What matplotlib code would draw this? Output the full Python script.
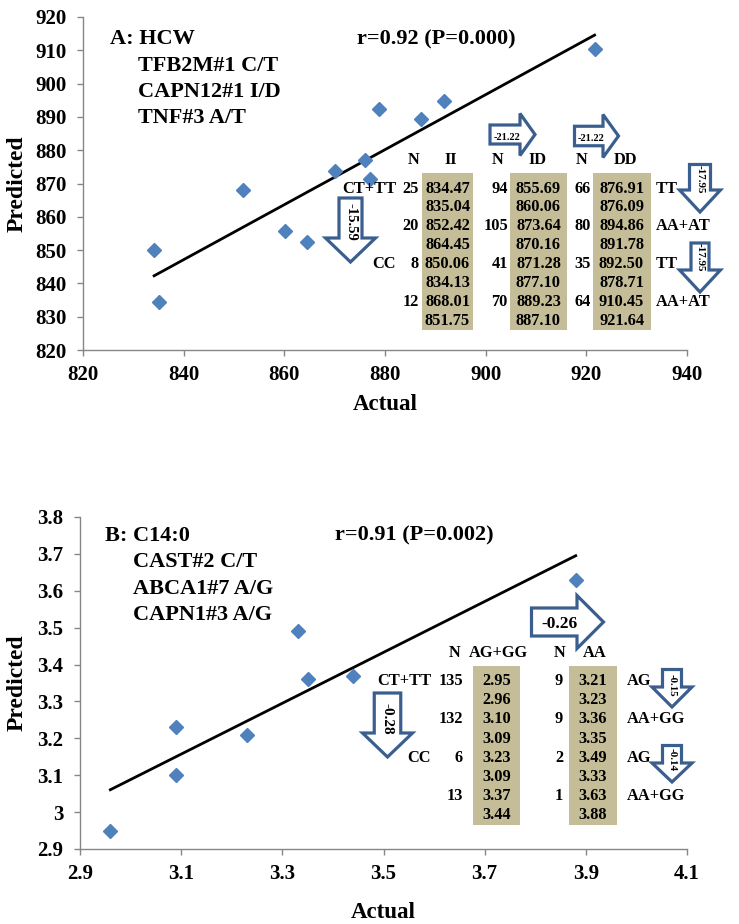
import numpy as np
import matplotlib
matplotlib.use('Agg')
import matplotlib.pyplot as plt
from matplotlib.patches import Polygon, Rectangle

plt.rcParams['font.family'] = 'Liberation Serif'
plt.rcParams['font.weight'] = 'bold'
plt.rcParams['axes.labelweight'] = 'bold'

# ---- panel A: HCW (predicted, actual) per genotype group; column order II, ID, DD
pred_a = [834.47, 852.42, 850.06, 868.01, 855.69, 873.64, 871.28, 889.23,
          876.91, 894.86, 892.50, 910.45]
act_a = [835.04, 864.45, 834.13, 851.75, 860.06, 870.16, 877.10, 887.10,
         876.09, 891.78, 878.71, 921.64]
n_a = [25, 20, 8, 12, 94, 105, 41, 70, 66, 80, 35, 64]
cols_a = ['II', 'ID', 'DD']
left_a = ['CT+TT', '', 'CC', '']
right_a = ['TT', 'AA+AT', 'TT', 'AA+AT']
title_a = ['A: HCW', 'TFB2M#1 C/T', 'CAPN12#1 I/D', 'TNF#3 A/T']
stat_a = 'r=0.92 (P=0.000)'

# ---- panel B: C14:0; column order AG+GG, AA
pred_b = [2.95, 3.10, 3.23, 3.37, 3.21, 3.36, 3.49, 3.63]
act_b = [2.96, 3.09, 3.09, 3.44, 3.23, 3.35, 3.33, 3.88]
n_b = [135, 132, 6, 13, 9, 9, 2, 1]
cols_b = ['AG+GG', 'AA']
left_b = ['CT+TT', '', 'CC', '']
right_b = ['AG', 'AA+GG', 'AG', 'AA+GG']
title_b = ['B: C14:0', 'CAST#2 C/T', 'ABCA1#7 A/G', 'CAPN1#3 A/G']
stat_b = 'r=0.91 (P=0.002)'

BLUE = '#4F81BD'
ARROW = '#3A5F8E'
TAN = '#C4BD97'
GRAY = '#868686'
W, H = 739, 924


def setup_axes(ax, xlim, ylim, xticks, yticks, ylabels, xlabel_y, ypix):
    ax.set_xlim(*xlim)
    ax.set_ylim(*ylim)
    ax.set_xticks(xticks)
    ax.set_yticks(yticks)
    ax.set_yticklabels(ylabels)
    for s in ['top', 'right']:
        ax.spines[s].set_visible(False)
    for s in ['left', 'bottom']:
        ax.spines[s].set_color(GRAY)
        ax.spines[s].set_linewidth(1.0)
    ax.tick_params(direction='out', length=4, width=1.0, color=GRAY, labelsize=15)
    ax.tick_params(axis='y', pad=8)
    ax.tick_params(axis='x', pad=7)
    ax.set_xlabel('Actual', fontsize=16.5, fontweight='bold', va='center')
    ax.set_ylabel('Predicted', fontsize=17, fontweight='bold', va='center')
    ax.xaxis.set_label_coords(0.5, xlabel_y)
    ax.yaxis.set_label_coords(ypix, 0.5)


def scatter_fit(ax, x, y):
    ax.plot(x, y, linestyle='none', marker='D', ms=6.8, color=BLUE, mec=BLUE, zorder=3)
    k, b = np.polyfit(x, y, 1)
    xs = np.array([min(x), max(x)])
    ax.plot(xs, k * xs + b, color='black', lw=2.0, zorder=2)


def txt(ov, x, y, s, size, ha='center', rot=0):
    # y is the visual centre of the glyphs, in pixels from the top
    if rot:
        ov.text(x, y, s, fontsize=size, ha='center', va='center', rotation=rot)
    else:
        ov.text(x, y + 0.34 * size * 100 / 72, s, fontsize=size, ha=ha, va='baseline')


def right_arrow(ov, x0, xh, x1, yc, bh, hh):
    pts = [(x0, yc - bh / 2), (xh, yc - bh / 2), (xh, yc - hh / 2), (x1, yc),
           (xh, yc + hh / 2), (xh, yc + bh / 2), (x0, yc + bh / 2)]
    ov.add_patch(Polygon(pts, closed=True, fc='white', ec=ARROW, lw=2.3, joinstyle='miter'))


def down_arrow(ov, xc, y0, yh, y1, bw, hw):
    pts = [(xc - bw / 2, y0), (xc + bw / 2, y0), (xc + bw / 2, yh), (xc + hw / 2, yh),
           (xc, y1), (xc - hw / 2, yh), (xc - bw / 2, yh)]
    ov.add_patch(Polygon(pts, closed=True, fc='white', ec=ARROW, lw=2.3, joinstyle='miter'))


def table(ov, pred, act, n, cols, left, right, box_x, box_w, box_top, box_bot,
          val_x, n_x, head_x, head_y, row0, dy, left_x, right_x, fmt):
    for c in range(len(cols)):
        ov.add_patch(Rectangle((box_x[c], box_top), box_w[c], box_bot - box_top,
                               fc=TAN, ec='none', zorder=1))
        txt(ov, head_x[c][0], head_y, 'N', 11.8)
        txt(ov, head_x[c][1], head_y, cols[c], 11.8)
        for g in range(4):
            k = c * 4 + g
            y1 = row0 + 2 * g * dy
            txt(ov, n_x[c], y1, str(n[k]), 11.8, ha='right')
            txt(ov, val_x[c], y1, fmt % pred[k], 11.8)
            txt(ov, val_x[c], y1 + dy, fmt % act[k], 11.8)
    for g in range(4):
        y1 = row0 + 2 * g * dy
        if left[g]:
            txt(ov, left_x, y1, left[g], 11.8, ha='right')
        txt(ov, right_x, y1, right[g], 11.8, ha='left')


fig = plt.figure(figsize=(W / 100, H / 100), dpi=100)

ax_a = fig.add_axes([83 / W, 1 - 350 / H, 604 / W, 333 / H])
setup_axes(ax_a, (820, 940), (820, 920), np.arange(820, 941, 20), np.arange(820, 921, 10),
           [str(v) for v in range(820, 921, 10)], -(405 - 350) / 333, (17 - 83) / 604)
scatter_fit(ax_a, act_a, pred_a)

ax_b = fig.add_axes([80 / W, 1 - 849 / H, 607 / W, 332 / H])
yt_b = [2.9, 3.0, 3.1, 3.2, 3.3, 3.4, 3.5, 3.6, 3.7, 3.8]
setup_axes(ax_b, (2.9, 4.1), (2.9, 3.8), [2.9, 3.1, 3.3, 3.5, 3.7, 3.9, 4.1], yt_b,
           ['%g' % v for v in yt_b], -(912 - 849) / 332, (17 - 80) / 607)
ax_b.set_xticklabels(['2.9', '3.1', '3.3', '3.5', '3.7', '3.9', '4.1'])
scatter_fit(ax_b, act_b, pred_b)

# overlay in pixel coordinates for the annotation text, tables and block arrows
ov = fig.add_axes([0, 0, 1, 1], zorder=5)
ov.set_xlim(0, W)
ov.set_ylim(H, 0)
ov.axis('off')

# panel A text
txt(ov, 110, 36.5, title_a[0], 16, ha='left')
for i, s in enumerate(title_a[1:]):
    txt(ov, 138, 63.5 + i * 26, s, 16, ha='left')
txt(ov, 357, 36.5, stat_a, 16, ha='left')

table(ov, pred_a, act_a, n_a, cols_a, left_a, right_a,
      box_x=[422, 510, 593], box_w=[51, 57, 58], box_top=173, box_bot=330,
      val_x=[447.5, 538.5, 621.5], n_x=[419, 508, 591],
      head_x=[(414, 451), (497.5, 537.5), (581.5, 625)], head_y=158.5,
      row0=187, dy=18.9, left_x=396, right_x=656, fmt='%.2f')

right_arrow(ov, 490, 520, 535, 134.5, 19, 42)
txt(ov, 506.5, 136.7, '-21.22', 7.5)
right_arrow(ov, 574.5, 603, 618.5, 136, 19.5, 43)
txt(ov, 591.5, 137.5, '-21.22', 7.5)
down_arrow(ov, 700, 164.5, 190, 212, 21, 41)
txt(ov, 700, 179, '-17.95', 8, rot=270)
down_arrow(ov, 700, 243, 270, 292, 18, 41)
txt(ov, 700, 257, '-17.95', 8, rot=270)
down_arrow(ov, 350.5, 198, 238, 262, 23, 50)
txt(ov, 351.5, 221.5, '-15.59', 10.5, rot=270)

# panel B text
txt(ov, 105, 533, title_b[0], 16, ha='left')
for i, s in enumerate(title_b[1:]):
    txt(ov, 133, 559.5 + i * 26.5, s, 16, ha='left')
txt(ov, 335, 533, stat_b, 16, ha='left')

table(ov, pred_b, act_b, n_b, cols_b, left_b, right_b,
      box_x=[473, 569], box_w=[47, 48], box_top=666, box_bot=825,
      val_x=[496.5, 593], n_x=[463, 563],
      head_x=[(454.5, 498), (559.5, 595)], head_y=651.5,
      row0=679.5, dy=19.2, left_x=431, right_x=627, fmt='%.2f')

right_arrow(ov, 531.5, 577, 603.5, 622, 28, 53)
txt(ov, 560, 622.5, '-0.26', 12.5)
down_arrow(ov, 387.5, 693, 733, 757, 26.5, 50)
txt(ov, 387.5, 719, '-0.28', 11, rot=270)
down_arrow(ov, 672, 669.5, 687, 707, 19, 40)
txt(ov, 672, 685, '-0.15', 7.8, rot=270)
down_arrow(ov, 672, 745.5, 763, 782, 19, 40)
txt(ov, 672, 760, '-0.14', 8, rot=270)

fig.savefig('out.png', dpi=100)
